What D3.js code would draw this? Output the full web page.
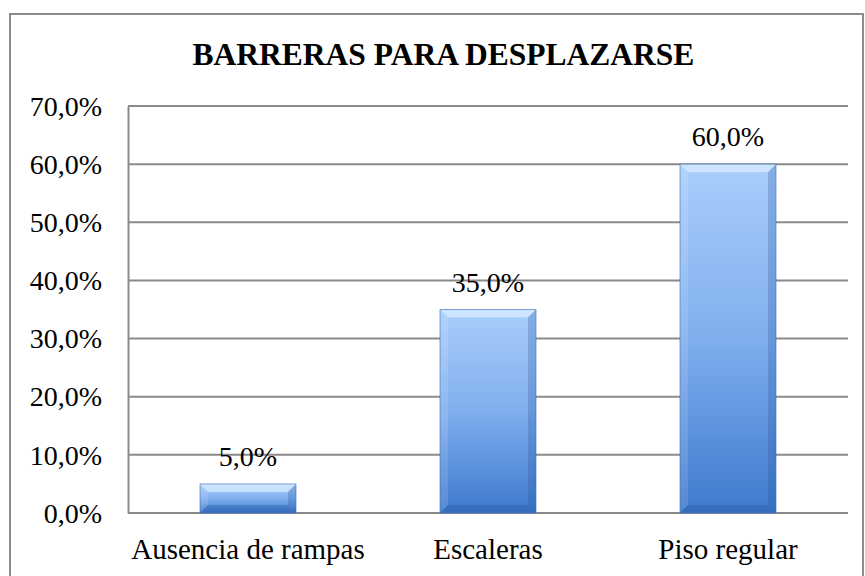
<!DOCTYPE html>
<html><head><meta charset="utf-8">
<script src="https://cdn.jsdelivr.net/npm/d3@7"></script>
<style>body{margin:0;background:#fff}svg{display:block}</style>
</head><body>
<script>
const categories = ["Ausencia de rampas", "Escaleras", "Piso regular"];
const values = [5.0, 35.0, 60.0];
const yTicks = [0, 10, 20, 30, 40, 50, 60, 70];
const title = "BARRERAS PARA DESPLAZARSE";

const W = 865, H = 576;
const FF = '"Liberation Serif", "Times New Roman", serif';
const svg = d3.select("body").append("svg").attr("width", W).attr("height", H);

const defs = svg.append("defs");
const g1 = defs.append("linearGradient").attr("id","barg").attr("x1",0).attr("y1",0).attr("x2",0).attr("y2",1);
g1.append("stop").attr("offset","0%").attr("stop-color","#a9cefb");
g1.append("stop").attr("offset","50%").attr("stop-color","#80aeee");
g1.append("stop").attr("offset","100%").attr("stop-color","#3e7acd");

svg.append("rect").attr("x",10).attr("y",14).attr("width",W-12).attr("height",H-10)
  .attr("fill","#fff").attr("stroke","#8c8c8c").attr("stroke-width",2);

svg.append("text").attr("x",443.5).attr("y",64.5).attr("text-anchor","middle")
  .style("font-family",FF).style("font-weight","bold").style("font-size","31.5px")
  .attr("fill","#000").text(title);

const x = d3.scaleBand().domain(categories).range([128, 848]).paddingInner(0.6).paddingOuter(0.3);
const y = d3.scaleLinear().domain([0, 70]).range([513, 106]);

const fmt = v => d3.format(".1f")(v).replace(".", ",") + "%";

svg.append("g").selectAll("line").data(yTicks).join("line")
  .attr("x1",128).attr("x2",848).attr("y1",d=>y(d)).attr("y2",d=>y(d))
  .attr("stroke","#8a8a8a").attr("stroke-width",2);

const ya = svg.append("g").attr("transform","translate(128,0)")
  .call(d3.axisLeft(y).tickValues(yTicks).tickFormat(fmt).tickSize(0).tickPadding(26));
ya.select(".domain").attr("stroke","#8a8a8a").attr("stroke-width",2);
ya.selectAll("text").style("font-family",FF).style("font-size","28px").attr("fill","#000").attr("dy","0.33em");

const xa = svg.append("g").attr("transform","translate(0,513)")
  .call(d3.axisBottom(x).tickSize(0).tickPadding(0));
xa.select(".domain").remove();
xa.selectAll("text").style("font-family",FF).style("font-size","29px").attr("fill","#000")
  .attr("dy",null).attr("y",46);

const bars = svg.append("g").selectAll("g").data(values).join("g");
bars.each(function(v, i) {
  const g = d3.select(this);
  const bx = x(categories[i]), bw = x.bandwidth(), by = y(v), bh = y(0) - y(v);
  const b = Math.min(8, bh/2);
  g.append("rect").attr("x",bx).attr("y",by).attr("width",bw).attr("height",bh).attr("fill","url(#barg)");
  g.append("polygon").attr("points",`${bx},${by} ${bx+bw},${by} ${bx+bw-b},${by+b} ${bx+b},${by+b}`)
    .attr("fill","#d8ebff").attr("opacity",0.75);
  g.append("polygon").attr("points",`${bx},${by} ${bx+b},${by+b} ${bx+b},${by+bh-b} ${bx},${by+bh}`)
    .attr("fill","#ffffff").attr("opacity",0.12);
  g.append("polygon").attr("points",`${bx+bw},${by} ${bx+bw-b},${by+b} ${bx+bw-b},${by+bh-b} ${bx+bw},${by+bh}`)
    .attr("fill","#1f4f96").attr("opacity",0.25);
  g.append("polygon").attr("points",`${bx},${by+bh} ${bx+b},${by+bh-b} ${bx+bw-b},${by+bh-b} ${bx+bw},${by+bh}`)
    .attr("fill","#1f4f96").attr("opacity",0.3);
  g.append("rect").attr("x",bx).attr("y",by).attr("width",bw).attr("height",bh)
    .attr("fill","none").attr("stroke","#3a6fb8").attr("stroke-width",1).attr("stroke-opacity",0.6);
  g.append("text").attr("x",bx+bw/2).attr("y",by-18).attr("text-anchor","middle")
    .style("font-family",FF).style("font-size","28px").attr("fill","#000").text(fmt(v));
});
</script>
</body></html>
